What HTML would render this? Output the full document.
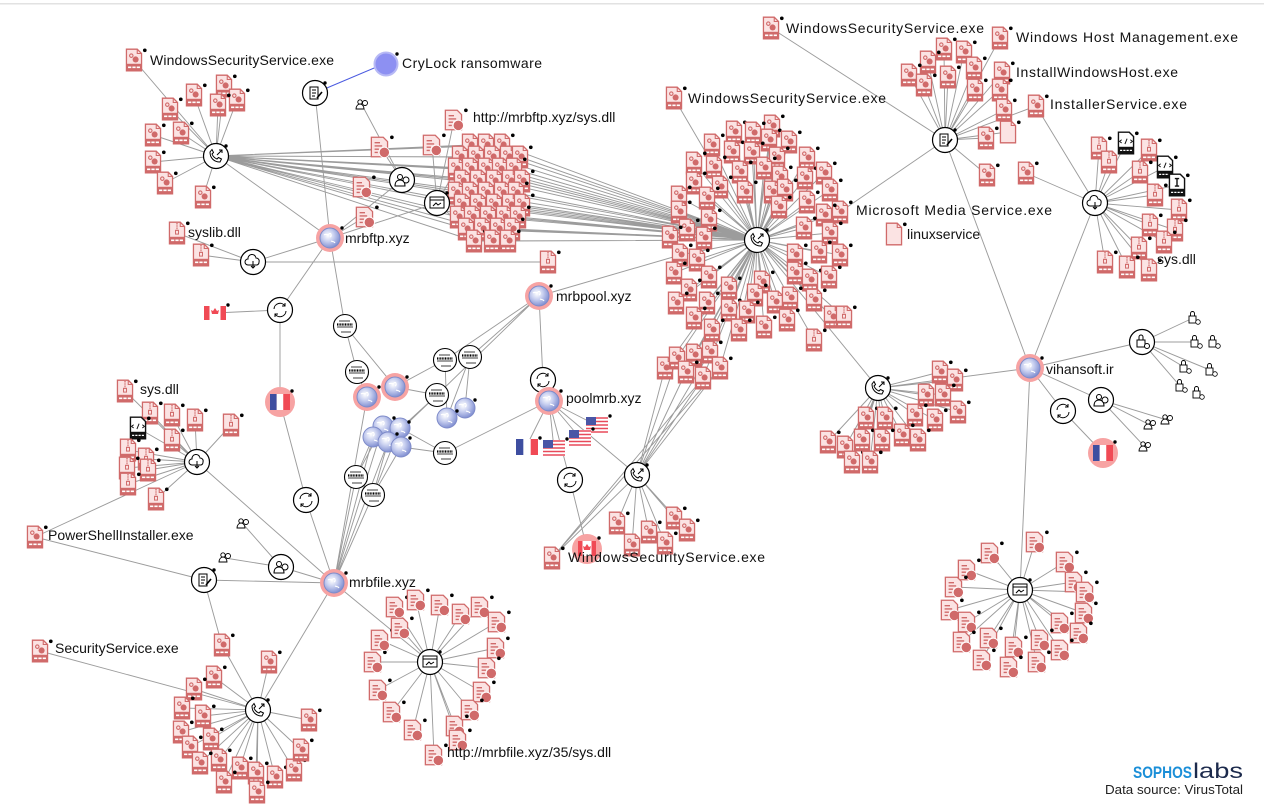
<!DOCTYPE html>
<html><head><meta charset="utf-8">
<style>
html,body{margin:0;padding:0;background:#fff;}
svg{display:block;}
.t{font-family:"Liberation Sans",Arial,sans-serif;font-size:14px;fill:#111;}
</style></head>
<body>
<svg width="1264" height="805" viewBox="0 0 1264 805" xmlns="http://www.w3.org/2000/svg">
<defs>
<radialGradient id="gb" cx="40%" cy="38%" r="65%"><stop offset="0" stop-color="#ffffff"/><stop offset="0.45" stop-color="#c9d0f0"/><stop offset="1" stop-color="#7d8cd0"/></radialGradient>
<g id="pg"><path d="M-7,-10H3L7,-6V10H-7Z" fill="#fbe3e3" stroke="#d06a6a" stroke-width="1.2"/><path d="M3,-10V-6H7" fill="none" stroke="#d06a6a" stroke-width="1"/></g>
<g id="e" transform="scale(1.08)"><use href="#pg"/><circle cx="-2.5" cy="-4" r="1.6" fill="none" stroke="#d06a6a"/><circle cx="1.5" cy="-0.5" r="2.8" fill="#d06a6a"/><rect x="-7" y="3.5" width="14" height="6.5" fill="#d06a6a"/><path d="M-5.5,6.8h3M-1.5,6.8h3M2.5,6.8h3" stroke="#fff" stroke-width="1.5"/><circle cx="10" cy="-9" r="1.7" fill="#000"/></g>
<g id="z" transform="scale(1.08)"><use href="#pg"/><path d="M0,-9v7" stroke="#d06a6a" stroke-width="1.6" stroke-dasharray="1 1"/><rect x="-1.4" y="-2.5" width="2.8" height="3.5" fill="none" stroke="#d06a6a" stroke-width=".9"/><rect x="-7" y="3.5" width="14" height="6.5" fill="#d06a6a"/><path d="M-5.5,6.8h3M-1.5,6.8h3M2.5,6.8h3" stroke="#fff" stroke-width="1.5"/><circle cx="10" cy="-9" r="1.7" fill="#000"/></g>
<g id="d" transform="scale(1.08)"><path d="M-8,-9H3L7,-5V9H-8Z" fill="#fbe3e3" stroke="#d06a6a" stroke-width="1.2"/><path d="M-5,-4h5M-5,-1h7M-5,2h4M-5,5h3" stroke="#d06a6a" stroke-width="1.3"/><circle cx="4" cy="5" r="4.8" fill="#d06a6a" stroke="#fff" stroke-width=".8"/><circle cx="11" cy="-9" r="1.7" fill="#000"/></g>
<g id="bl" transform="scale(1.08)"><use href="#pg"/><circle cx="10" cy="-9" r="1.7" fill="#000"/></g>
<g id="hb" transform="scale(1.08)"><path d="M-7,-10H3L7,-6V10H-7Z" fill="#fff" stroke="#111" stroke-width="1.3"/><path d="M-4,-3l-2,1.5 2,1.5M4,-3l2,1.5-2,1.5M1,-4l-2,5" fill="none" stroke="#111" stroke-width=".9"/><rect x="-7" y="3.5" width="14" height="6.5" fill="#111"/><path d="M-5.5,6.8h11" stroke="#fff" stroke-width="1.2" stroke-dasharray="2 1"/><circle cx="10" cy="-9" r="1.7" fill="#000"/></g>
<g id="ic" transform="scale(1.08)"><path d="M-7,-10H3L7,-6V10H-7Z" fill="#fff" stroke="#111" stroke-width="1.3"/><path d="M-2,-6h4M0,-6v7M-2,1h4" stroke="#111" stroke-width="1.3"/><rect x="-7" y="3.5" width="14" height="6.5" fill="#111"/><path d="M-5.5,6.8h11" stroke="#fff" stroke-width="1.2" stroke-dasharray="2 1"/><circle cx="10" cy="-9" r="1.7" fill="#000"/></g>
<circle id="hc" r="12.5" fill="#fff" stroke="#000" stroke-width="1.2"/>
<g id="hph"><use href="#hc"/><path d="M-6,-4c0,6 4,10 10,10l1.5-3-3-1.5-1.5,1.5c-2.5-1-4-2.5-5-5l1.5-1.5-1.5-3z" fill="none" stroke="#000" stroke-width="1"/><path d="M1,-1l5-5M3,-6h3v3" fill="none" stroke="#000" stroke-width="1"/><circle cx="10" cy="-10" r="1.7"/></g>
<g id="hdo"><use href="#hc"/><path d="M-5,-6h8v12h-8z M-3,-3h4M-3,0h4M-3,3h3" fill="none" stroke="#000"/><path d="M2,5l5-6" stroke="#000" stroke-width="1.6"/><circle cx="10" cy="-10" r="1.7"/></g>
<g id="hwi"><use href="#hc"/><rect x="-7" y="-6" width="14" height="11" fill="none" stroke="#000"/><path d="M-7,-3h14M-4,3l3-3 2,2 3-2" fill="none" stroke="#000"/><circle cx="10" cy="-10" r="1.7"/></g>
<g id="hpe"><use href="#hc"/><circle cx="-2" cy="-3" r="2.5" fill="none" stroke="#000"/><path d="M-7,6c0-4 2-6 5-6s5,2 5,6z" fill="none" stroke="#000"/><circle cx="4" cy="0" r="3" fill="#fff" stroke="#000"/></g>
<g id="hcl"><use href="#hc"/><path d="M-5,3a3,3 0 0 1 0-6a4,4 0 0 1 8-1a3,3 0 0 1 3,4a3,3 0 0 1-2,3z" fill="none" stroke="#000"/><path d="M0,-1v7M-2,4l2,2 2-2" fill="none" stroke="#000"/></g>
<g id="hsw"><use href="#hc"/><path d="M-6,-1a6,6 0 0 1 11-3M6,1a6,6 0 0 1-11,3M5,-7v3h-3M-5,7v-3h3" fill="none" stroke="#000"/></g>
<g id="hlk"><use href="#hc"/><rect x="-5" y="-2" width="8" height="7" fill="none" stroke="#000"/><path d="M-3,-2v-3a2,2 0 0 1 4,0v3" fill="none" stroke="#000"/><circle cx="5" cy="4" r="2.5" fill="#fff" stroke="#000"/></g>
<g id="hce"><circle r="11.5" fill="#fff" stroke="#000" stroke-width="1.1"/><path d="M-8,1h16M-6,-5h11M-4,6h10" stroke="#000" stroke-width=".7"/><path d="M-8,-1.5h16" stroke="#000" stroke-width="2.2" stroke-dasharray="1 .6"/></g>
<g id="dm"><circle r="14" fill="#f7a3a3"/><circle r="10" fill="url(#gb)" stroke="#7e8bc9" stroke-width="1"/><path d="M-6,-3c2,-2 3,1 5,-1s3,2 1,3M1,3c2,1 3,0 4,2" stroke="#fff" stroke-width="1.2" fill="none"/><circle cx="12" cy="-10" r="1.7"/></g>
<g id="gl"><circle r="10" fill="url(#gb)" stroke="#7e8bc9" stroke-width="1"/><path d="M-6,-3c2,-2 3,1 5,-1s3,2 1,3M1,3c2,1 3,0 4,2" stroke="#fff" stroke-width="1.2" fill="none"/></g>
<g id="fr"><rect x="-11" y="-8" width="7.4" height="16" fill="#3e4ea0"/><rect x="-3.6" y="-8" width="7.3" height="16" fill="#fff"/><rect x="3.7" y="-8" width="7.3" height="16" fill="#f04a55"/><circle cx="13" cy="-9" r="1.7"/></g>
<g id="us"><rect x="-11" y="-8" width="22" height="16" fill="#fff"/><path d="M-11,-7h22M-11,-3.5h22M-11,0h22M-11,3.5h22M-11,7h22" stroke="#e84a5a" stroke-width="1.6"/><rect x="-11" y="-8" width="10" height="8" fill="#4a56a6"/><circle cx="13" cy="-9" r="1.7"/></g>
<g id="ca"><rect x="-11" y="-7" width="22" height="14" fill="#fff"/><rect x="-11" y="-7" width="5.5" height="14" fill="#f04a55"/><rect x="5.5" y="-7" width="5.5" height="14" fill="#f04a55"/><path d="M0,-5l2,3 2,-1-1,4h-6l-1,-4 2,1z" fill="#f04a55"/><circle cx="13" cy="-8" r="1.7"/></g>
<g id="cac"><circle r="15" fill="#f7a3a3"/><rect x="-9" y="-8" width="18" height="15" fill="#fff"/><rect x="-9" y="-8" width="4.5" height="15" fill="#f04a55"/><rect x="4.5" y="-8" width="4.5" height="15" fill="#f04a55"/><path d="M0,-5l2,3 2,-1-1,4h-6l-1,-4 2,1z" fill="#f04a55"/><circle cx="12" cy="-11" r="1.7"/></g>
<g id="frc"><circle r="15" fill="#f7a3a3"/><rect x="-10" y="-8" width="6.7" height="16" fill="#3e4ea0"/><rect x="-3.3" y="-8" width="6.6" height="16" fill="#fff"/><rect x="3.3" y="-8" width="6.7" height="16" fill="#f04a55"/><circle cx="12" cy="-11" r="1.7"/></g>
<g id="pp"><circle cx="-2" cy="-3" r="2.2" fill="#fff" stroke="#000" stroke-width=".9"/><path d="M-6,4c0-3 2-5 4-5s4,2 4,5z" fill="#fff" stroke="#000" stroke-width=".9"/><circle cx="3" cy="-2" r="2.5" fill="#fff" stroke="#000" stroke-width=".9"/></g>
<g id="lk"><rect x="-4" y="-2" width="7" height="7" fill="#fff" stroke="#000" stroke-width=".9"/><path d="M-2.5,-2v-2.5a2,2 0 0 1 4,0v2.5" fill="none" stroke="#000" stroke-width=".9"/><circle cx="5" cy="4" r="2.3" fill="#fff" stroke="#000" stroke-width=".8"/></g>
</defs>

<rect x="0" y="3" width="1264" height="1.5" fill="#e2e2e2"/>

<!-- EDGES -->
<g fill="none" stroke="#9c9c9c" stroke-width="0.95">
<path d="M216,156L134,60M216,156L224,86M216,156L194,95M216,156L237,100M216,156L218,105M216,156L170,109M216,156L153,135M216,156L181,133M216,156L153,162M216,156L165,183M216,156L203,197"/>
<path d="M216,156L460,157M216,156L456,169M216,156L462,181M216,156L456,193M216,156L462,205M216,156L458,217M216,156L466,229M216,156L470,145M216,156L476,157M216,156L470,169M216,156L478,181M216,156L470,193M216,156L478,205M216,156L472,217M216,156L482,229M216,156L474,241M216,156L486,145M216,156L492,157M216,156L486,169M216,156L494,181M216,156L486,193M216,156L508,157M216,156L502,145"/>
<path d="M757,240L502,145M757,240L508,157M757,240L520,157M757,240L514,169M757,240L500,169M757,240L522,181M757,240L510,181M757,240L516,193M757,240L502,193M757,240L522,205M757,240L510,205M757,240L518,217M757,240L504,217M757,240L512,229M757,240L498,229M757,240L508,241M757,240L492,241M757,240L494,205M757,240L494,181M757,240L486,169M757,240L488,217M757,240L482,229M757,240L486,145M757,240L492,157M757,240L478,205M757,240L470,193M757,240L474,241M757,240L466,229M757,240L462,205"/>
<path d="M757,240L772,126M757,240L734,132M757,240L753,133M757,240L712,145M757,240L769,140M757,240L789,142M757,240L732,152M757,240L752,153M757,240L777,158M757,240L807,158M757,240L694,163M757,240L714,167M757,240L740,172M757,240L764,168M757,240L780,177M757,240L805,178M757,240L824,173M757,240L694,183M757,240L720,187M757,240L745,192M757,240L772,192M757,240L785,190M757,240L830,190M757,240L679,197M757,240L707,198M757,240L779,207M757,240L807,202M757,240L840,212M757,240L824,215M757,240L679,212M757,240L709,220M757,240L687,230M757,240L804,228M757,240L830,233M757,240L670,237M757,240L704,238M757,240L680,255M757,240L697,260M757,240L795,255M757,240L819,252M757,240L840,255M757,240L674,273M757,240L709,277M757,240L795,273M757,240L810,280M757,240L829,277M757,240L689,290M757,240L729,288M757,240L762,282M757,240L755,295M757,240L707,303M757,240L729,310M757,240L747,312M757,240L775,302M757,240L790,298M757,240L814,300M757,240L739,330M757,240L764,327M757,240L787,320M757,240L832,317M757,240L844,317M757,240L814,340M757,240L676,303M757,240L694,318M757,240L712,330M757,240L674,98M757,240L665,368M757,240L677,358M757,240L694,355M757,240L710,352M757,240L686,372M757,240L703,378M757,240L720,368M757,240L878,388"/>
<path d="M637,475L665,368M637,475L677,358M637,475L694,355M637,475L710,352M637,475L686,372M637,475L703,378M637,475L720,368M637,475L617,523M637,475L632,545M637,475L649,532M637,475L665,543M637,475L674,518M637,475L687,530M637,475L552,558M552,558L703,378M552,558L720,368M549,401L637,475"/>
<path d="M878,388L940,372M878,388L955,380M878,388L926,395M878,388L943,395M878,388L958,412M878,388L915,415M878,388L935,420M878,388L866,418M878,388L885,418M878,388L902,435M878,388L828,442M878,388L845,447M878,388L862,440M878,388L882,440M878,388L852,462M878,388L870,462M878,388L918,440M878,388L1030,368"/>
<path d="M945,140L1000,38M945,140L1002,73M945,140L1036,106M945,140L944,49M945,140L964,52M945,140L928,62M945,140L909,75M945,140L924,85M945,140L948,77M945,140L974,68M945,140L975,90M945,140L1000,90M945,140L1004,110M945,140L986,138M945,140L1008,132M945,140L987,175M945,140L771,28M945,140L840,212M945,140L1030,368"/>
<path d="M1095,203L1099,148M1095,203L1109,162M1095,203L1126,143M1095,203L1149,150M1095,203L1140,172M1095,203L1165,167M1095,203L1177,185M1095,203L1155,195M1095,203L1179,210M1095,203L1150,225M1095,203L1175,230M1095,203L1164,242M1095,203L1139,248M1095,203L1105,262M1095,203L1127,267M1095,203L1149,270M1095,203L1026,173M1095,203L1036,106M1095,203L1030,368"/>
<path d="M1030,368L1142,342M1030,368L1101,400M1030,368L1063,411M1030,368L1020,590M1142,342L1193,318M1142,342L1195,342M1142,342L1184,367M1142,342L1210,370M1142,342L1180,386M1101,400L1150,425M1101,400L1167,420M1101,400L1145,447M1063,411L1103,453"/>
<path d="M1020,590L1035,542M1020,590L990,553M1020,590L1065,562M1020,590L967,570M1020,590L1074,582M1020,590L954,587M1020,590L1085,592M1020,590L950,610M1020,590L1084,613M1020,590L967,622M1020,590L1060,623M1020,590L1079,633M1020,590L962,642M1020,590L989,638M1020,590L1040,640M1020,590L1014,647M1020,590L1060,650M1020,590L982,660M1020,590L1037,662M1020,590L1009,667"/>
<path d="M330,238L216,156M330,238L315,93M330,238L253,262M330,238L280,310M330,238L345,326M330,238L365,217M330,238L437,203M330,238L402,180M402,180L362,105M402,180L380,147M437,203L432,145M437,203L454,120M437,203L470,193M437,203L462,205M437,203L456,169M437,203L466,229M253,262L177,233M253,262L201,255M253,262L548,262M280,310L215,313M280,310L280,402"/>
<path d="M345,326L357,372M345,326L395,387M357,372L367,397M539,296L445,360M539,296L470,357M539,296L543,380M539,296L680,255M539,296L437,395M543,380L549,401M445,360L395,387M445,360L447,418M470,357L465,408M470,357L447,418M437,395L401,428M437,395L388,442M437,395L395,387M445,453L401,447M445,453L400,428M549,401L445,453M549,401L526,447M549,401L554,449M549,401L580,438M549,401L596,425M549,401L570,480M570,480L587,549M356,477L373,437M356,477L383,426M373,495L388,442M373,495L401,447M373,495L400,428"/>
<path d="M334,583L356,477M334,583L373,495M334,583L383,426M334,583L373,437M334,583L388,442M334,583L306,500M334,583L197,462M334,583L204,580M334,583L281,567M334,583L258,710M334,583L430,662M334,583L367,397M306,500L280,402M281,567L243,524M281,567L225,558M204,580L222,645M204,580L35,537M197,462L35,537M40,651L258,710"/>
<path d="M197,462L125,391M197,462L150,413M197,462L172,415M197,462L195,420M197,462L231,425M197,462L138,428M197,462L128,450M197,462L146,459M197,462L127,468M197,462L148,470M197,462L128,484M197,462L156,499M197,462L172,440"/>
<path d="M258,710L222,645M258,710L269,662M258,710L214,677M258,710L194,689M258,710L182,708M258,710L203,716M258,710L181,732M258,710L211,739M258,710L190,747M258,710L219,760M258,710L200,763M258,710L240,768M258,710L224,782M258,710L256,773M258,710L275,777M258,710L294,770M258,710L257,792M258,710L301,750M258,710L309,720"/>
<path d="M430,662L395,607M430,662L416,600M430,662L440,605M430,662L461,614M430,662L480,607M430,662L497,622M430,662L496,648M430,662L487,668M430,662L482,692M430,662L470,710M430,662L455,726M430,662L434,755M430,662L413,730M430,662L392,712M430,662L378,690M430,662L373,662M430,662L380,640M430,662L400,628M430,662L458,740"/>
</g>
<path d="M315,93L386,63" stroke="#4a5ae0" stroke-width="1" fill="none"/>

<!-- ICONS: cluster A -->
<use href="#e" x="134" y="60"/><use href="#e" x="224" y="86"/><use href="#e" x="194" y="95"/><use href="#e" x="237" y="100"/><use href="#e" x="218" y="105"/><use href="#e" x="170" y="109"/><use href="#e" x="153" y="135"/><use href="#e" x="181" y="133"/><use href="#e" x="153" y="162"/><use href="#e" x="165" y="183"/><use href="#e" x="203" y="197"/>
<use href="#hph" x="216" y="156"/>

<!-- dense cluster -->
<use href="#e" x="470" y="145"/><use href="#e" x="486" y="145"/><use href="#e" x="502" y="145"/>
<use href="#e" x="460" y="157"/><use href="#e" x="476" y="157"/><use href="#e" x="492" y="157"/><use href="#e" x="508" y="157"/><use href="#e" x="520" y="157"/>
<use href="#e" x="456" y="169"/><use href="#e" x="470" y="169"/><use href="#e" x="486" y="169"/><use href="#e" x="500" y="169"/><use href="#e" x="514" y="169"/>
<use href="#e" x="462" y="181"/><use href="#e" x="478" y="181"/><use href="#e" x="494" y="181"/><use href="#e" x="510" y="181"/><use href="#e" x="522" y="181"/>
<use href="#e" x="456" y="193"/><use href="#e" x="470" y="193"/><use href="#e" x="486" y="193"/><use href="#e" x="502" y="193"/><use href="#e" x="516" y="193"/>
<use href="#e" x="462" y="205"/><use href="#e" x="478" y="205"/><use href="#e" x="494" y="205"/><use href="#e" x="510" y="205"/><use href="#e" x="522" y="205"/>
<use href="#e" x="458" y="217"/><use href="#e" x="472" y="217"/><use href="#e" x="488" y="217"/><use href="#e" x="504" y="217"/><use href="#e" x="518" y="217"/>
<use href="#e" x="466" y="229"/><use href="#e" x="482" y="229"/><use href="#e" x="498" y="229"/><use href="#e" x="512" y="229"/>
<use href="#e" x="474" y="241"/><use href="#e" x="492" y="241"/><use href="#e" x="508" y="241"/>

<!-- mrbftp area -->
<use href="#d" x="380" y="147"/><use href="#d" x="432" y="145"/><use href="#d" x="454" y="120"/><use href="#d" x="362" y="187"/><use href="#d" x="365" y="217"/>
<use href="#pp" x="362" y="105"/>
<use href="#hdo" x="315" y="93"/>
<use href="#hpe" x="402" y="180"/>
<use href="#hwi" x="437" y="203"/>
<circle cx="386" cy="64" r="11.5" fill="#8d90f2" stroke="#b7b9f5" stroke-width="2"/><circle cx="397" cy="54" r="1.7"/>
<use href="#z" x="177" y="233"/><use href="#z" x="201" y="255"/><use href="#z" x="548" y="262"/>
<use href="#hcl" x="253" y="262"/>
<use href="#dm" x="330" y="238"/>
<use href="#hsw" x="280" y="310"/>
<use href="#ca" x="215" y="313"/>
<use href="#frc" x="280" y="402"/>

<!-- central big cluster -->
<use href="#e" x="772" y="126"/><use href="#e" x="734" y="132"/><use href="#e" x="753" y="133"/><use href="#e" x="712" y="145"/><use href="#e" x="769" y="140"/><use href="#e" x="789" y="142"/><use href="#e" x="732" y="152"/><use href="#e" x="752" y="153"/><use href="#e" x="777" y="158"/><use href="#e" x="807" y="158"/><use href="#e" x="694" y="163"/><use href="#e" x="714" y="167"/><use href="#e" x="740" y="172"/><use href="#e" x="764" y="168"/><use href="#e" x="780" y="177"/><use href="#e" x="805" y="178"/><use href="#e" x="824" y="173"/><use href="#e" x="694" y="183"/><use href="#e" x="720" y="187"/><use href="#e" x="745" y="192"/><use href="#e" x="772" y="192"/><use href="#e" x="785" y="190"/><use href="#e" x="830" y="190"/><use href="#e" x="679" y="197"/><use href="#e" x="707" y="198"/><use href="#e" x="779" y="207"/><use href="#e" x="807" y="202"/><use href="#e" x="840" y="212"/><use href="#e" x="824" y="215"/><use href="#e" x="679" y="212"/><use href="#e" x="709" y="220"/><use href="#e" x="687" y="230"/><use href="#e" x="804" y="228"/><use href="#e" x="830" y="233"/><use href="#e" x="670" y="237"/><use href="#e" x="704" y="238"/><use href="#e" x="680" y="255"/><use href="#e" x="697" y="260"/><use href="#e" x="795" y="255"/><use href="#e" x="819" y="252"/><use href="#e" x="840" y="255"/><use href="#e" x="674" y="273"/><use href="#e" x="709" y="277"/><use href="#e" x="795" y="273"/><use href="#e" x="810" y="280"/><use href="#e" x="829" y="277"/><use href="#e" x="689" y="290"/><use href="#e" x="729" y="288"/><use href="#e" x="762" y="282"/><use href="#e" x="755" y="295"/><use href="#e" x="707" y="303"/><use href="#e" x="729" y="310"/><use href="#e" x="747" y="312"/><use href="#e" x="775" y="302"/><use href="#e" x="790" y="298"/><use href="#e" x="814" y="300"/><use href="#e" x="739" y="330"/><use href="#e" x="764" y="327"/><use href="#e" x="787" y="320"/><use href="#e" x="832" y="317"/><use href="#z" x="844" y="317"/><use href="#z" x="814" y="340"/><use href="#e" x="676" y="303"/><use href="#e" x="694" y="318"/><use href="#e" x="712" y="330"/>
<use href="#e" x="665" y="368"/><use href="#e" x="677" y="358"/><use href="#e" x="694" y="355"/><use href="#e" x="710" y="352"/><use href="#e" x="686" y="372"/><use href="#e" x="703" y="378"/><use href="#e" x="720" y="368"/>
<use href="#e" x="674" y="98"/>
<use href="#hph" x="757" y="240"/>
<use href="#bl" x="894" y="234"/>

<!-- HP2 -->
<use href="#e" x="940" y="372"/><use href="#e" x="955" y="380"/><use href="#e" x="926" y="395"/><use href="#e" x="943" y="395"/><use href="#e" x="958" y="412"/><use href="#e" x="915" y="415"/><use href="#e" x="935" y="420"/><use href="#e" x="866" y="418"/><use href="#e" x="885" y="418"/><use href="#e" x="902" y="435"/><use href="#e" x="828" y="442"/><use href="#e" x="845" y="447"/><use href="#e" x="862" y="440"/><use href="#e" x="882" y="440"/><use href="#e" x="852" y="462"/><use href="#e" x="870" y="462"/><use href="#e" x="918" y="440"/>
<use href="#hph" x="878" y="388"/>

<!-- HD top right -->
<use href="#e" x="771" y="28"/><use href="#e" x="1000" y="38"/><use href="#e" x="1002" y="73"/><use href="#e" x="1036" y="106"/><use href="#e" x="944" y="49"/><use href="#e" x="964" y="52"/><use href="#e" x="928" y="62"/><use href="#e" x="909" y="75"/><use href="#e" x="924" y="85"/><use href="#e" x="948" y="77"/><use href="#e" x="974" y="68"/><use href="#e" x="975" y="90"/><use href="#e" x="1000" y="90"/><use href="#e" x="1004" y="110"/><use href="#e" x="986" y="138"/><use href="#bl" x="1008" y="132"/><use href="#e" x="987" y="175"/><use href="#e" x="1026" y="173"/>
<use href="#hdo" x="945" y="140"/>

<!-- HC -->
<use href="#z" x="1099" y="148"/><use href="#z" x="1109" y="162"/><use href="#hb" x="1126" y="143"/><use href="#z" x="1149" y="150"/><use href="#z" x="1140" y="172"/><use href="#hb" x="1165" y="167"/><use href="#ic" x="1177" y="185"/><use href="#z" x="1155" y="195"/><use href="#z" x="1179" y="210"/><use href="#z" x="1150" y="225"/><use href="#z" x="1175" y="230"/><use href="#z" x="1164" y="242"/><use href="#z" x="1139" y="248"/><use href="#z" x="1105" y="262"/><use href="#z" x="1127" y="267"/><use href="#z" x="1149" y="270"/>
<use href="#hcl" x="1095" y="203"/>

<!-- vihansoft -->
<use href="#dm" x="1030" y="368"/>
<use href="#hlk" x="1142" y="342"/>
<use href="#lk" x="1193" y="318"/><use href="#lk" x="1195" y="342"/><use href="#lk" x="1213" y="342"/><use href="#lk" x="1184" y="367"/><use href="#lk" x="1210" y="370"/><use href="#lk" x="1180" y="386"/><use href="#lk" x="1197" y="393"/>
<use href="#hpe" x="1101" y="400"/>
<use href="#pp" x="1150" y="425"/><use href="#pp" x="1167" y="420"/><use href="#pp" x="1145" y="447"/>
<use href="#hsw" x="1063" y="411"/>
<use href="#frc" x="1103" y="453"/>

<!-- HW bottom right -->
<use href="#d" x="1035" y="542"/><use href="#d" x="990" y="553"/><use href="#d" x="1065" y="562"/><use href="#d" x="967" y="570"/><use href="#d" x="1074" y="582"/><use href="#d" x="954" y="587"/><use href="#d" x="1085" y="592"/><use href="#d" x="950" y="610"/><use href="#d" x="1084" y="613"/><use href="#d" x="967" y="622"/><use href="#d" x="1060" y="623"/><use href="#d" x="1079" y="633"/><use href="#d" x="962" y="642"/><use href="#d" x="989" y="638"/><use href="#d" x="1040" y="640"/><use href="#d" x="1014" y="647"/><use href="#d" x="1060" y="650"/><use href="#d" x="982" y="660"/><use href="#d" x="1037" y="662"/><use href="#d" x="1009" y="667"/>
<use href="#hwi" x="1020" y="590"/>

<!-- mrbpool / poolmrb -->
<use href="#dm" x="539" y="296"/>
<use href="#hsw" x="543" y="380"/>
<use href="#dm" x="549" y="401"/>
<use href="#us" x="597" y="425"/><use href="#us" x="580" y="438"/><use href="#fr" x="527" y="447"/><use href="#us" x="554" y="448"/>
<use href="#hsw" x="570" y="480"/>
<use href="#cac" x="587" y="549"/>
<use href="#e" x="617" y="523"/><use href="#e" x="632" y="545"/><use href="#e" x="649" y="532"/><use href="#e" x="665" y="543"/><use href="#e" x="674" y="518"/><use href="#e" x="687" y="530"/><use href="#e" x="552" y="558"/>
<use href="#hph" x="637" y="475"/>

<!-- globe cluster -->
<use href="#hce" x="345" y="326"/><use href="#hce" x="357" y="372"/><use href="#hce" x="445" y="360"/><use href="#hce" x="470" y="357"/><use href="#hce" x="437" y="395"/><use href="#hce" x="445" y="453"/><use href="#hce" x="356" y="477"/><use href="#hce" x="373" y="495"/>
<use href="#dm" x="367" y="397"/><use href="#dm" x="395" y="387"/>
<use href="#gl" x="447" y="418"/><use href="#gl" x="465" y="408"/><circle cx="475" cy="400" r="1.7"/><circle cx="457" cy="411" r="1.7"/>
<use href="#gl" x="383" y="426"/><use href="#gl" x="400" y="428"/><use href="#gl" x="373" y="437"/><use href="#gl" x="388" y="442"/><use href="#gl" x="401" y="447"/>
<circle cx="394" cy="418" r="1.7"/><circle cx="409" cy="422" r="1.7"/><circle cx="397" cy="434" r="1.7"/><circle cx="410" cy="438" r="1.7"/>

<!-- left cluster -->
<use href="#z" x="125" y="391"/><use href="#z" x="150" y="413"/><use href="#z" x="172" y="415"/><use href="#z" x="195" y="420"/><use href="#z" x="231" y="425"/><use href="#hb" x="138" y="428"/><use href="#z" x="128" y="450"/><use href="#z" x="146" y="459"/><use href="#z" x="127" y="468"/><use href="#z" x="148" y="470"/><use href="#z" x="128" y="484"/><use href="#z" x="156" y="499"/><use href="#z" x="172" y="440"/>
<use href="#hcl" x="197" y="462"/>
<use href="#e" x="35" y="537"/>
<use href="#pp" x="243" y="524"/><use href="#pp" x="225" y="558"/>
<use href="#hpe" x="281" y="567"/>
<use href="#hdo" x="204" y="580"/>
<use href="#hsw" x="306" y="500"/>
<use href="#dm" x="334" y="583"/>

<!-- HP4 -->
<use href="#e" x="40" y="651"/>
<use href="#e" x="222" y="645"/><use href="#e" x="269" y="662"/><use href="#e" x="214" y="677"/><use href="#e" x="194" y="689"/><use href="#e" x="182" y="708"/><use href="#e" x="203" y="716"/><use href="#e" x="181" y="732"/><use href="#e" x="211" y="739"/><use href="#e" x="190" y="747"/><use href="#e" x="219" y="760"/><use href="#e" x="200" y="763"/><use href="#e" x="240" y="768"/><use href="#e" x="224" y="782"/><use href="#e" x="256" y="773"/><use href="#e" x="275" y="777"/><use href="#e" x="294" y="770"/><use href="#e" x="257" y="792"/><use href="#e" x="301" y="750"/><use href="#e" x="309" y="720"/>
<use href="#hph" x="258" y="710"/>

<!-- HW2 -->
<use href="#d" x="395" y="607"/><use href="#d" x="416" y="600"/><use href="#d" x="440" y="605"/><use href="#d" x="461" y="614"/><use href="#d" x="480" y="607"/><use href="#d" x="497" y="622"/><use href="#d" x="496" y="648"/><use href="#d" x="487" y="668"/><use href="#d" x="482" y="692"/><use href="#d" x="470" y="710"/><use href="#d" x="455" y="726"/><use href="#d" x="434" y="755"/><use href="#d" x="413" y="730"/><use href="#d" x="392" y="712"/><use href="#d" x="378" y="690"/><use href="#d" x="373" y="662"/><use href="#d" x="380" y="640"/><use href="#d" x="400" y="628"/><use href="#d" x="458" y="740"/>
<use href="#hwi" x="430" y="662"/>

<!-- LABELS -->
<text class="t" x="150" y="65" textLength="184" lengthAdjust="spacing">WindowsSecurityService.exe</text>
<text class="t" x="402" y="68" textLength="140" lengthAdjust="spacing">CryLock ransomware</text>
<text class="t" x="473" y="122">http://mrbftp.xyz/sys.dll</text>
<text class="t" x="688" y="103" textLength="198" lengthAdjust="spacing">WindowsSecurityService.exe</text>
<text class="t" x="786" y="33" textLength="198" lengthAdjust="spacing">WindowsSecurityService.exe</text>
<text class="t" x="1016" y="42" textLength="222" lengthAdjust="spacing">Windows Host Management.exe</text>
<text class="t" x="1016" y="77" textLength="162" lengthAdjust="spacing">InstallWindowsHost.exe</text>
<text class="t" x="1050" y="109" textLength="137" lengthAdjust="spacing">InstallerService.exe</text>
<text class="t" x="856" y="215" textLength="196" lengthAdjust="spacing">Microsoft Media Service.exe</text>
<text class="t" x="907" y="239">linuxservice</text>
<text class="t" x="1157" y="264">sys.dll</text>
<text class="t" x="188" y="237">syslib.dll</text>
<text class="t" x="345" y="243">mrbftp.xyz</text>
<text class="t" x="556" y="301">mrbpool.xyz</text>
<text class="t" x="566" y="403">poolmrb.xyz</text>
<text class="t" x="1046" y="374">vihansoft.ir</text>
<text class="t" x="140" y="394">sys.dll</text>
<text class="t" x="48" y="540">PowerShellInstaller.exe</text>
<text class="t" x="349" y="587">mrbfile.xyz</text>
<text class="t" x="55" y="653">SecurityService.exe</text>
<text class="t" x="568" y="562" textLength="197" lengthAdjust="spacing">WindowsSecurityService.exe</text>
<text class="t" x="447" y="757">http://mrbfile.xyz/35/sys.dll</text>

<!-- logo -->
<text x="1133" y="778" font-family="Liberation Sans, Arial, sans-serif" font-size="17" font-weight="bold" fill="#1b8fd8" textLength="59" lengthAdjust="spacingAndGlyphs">SOPHOS</text>
<text x="1193" y="778" font-family="Liberation Sans, Arial, sans-serif" font-size="21" fill="#1c2a4c" textLength="50" lengthAdjust="spacingAndGlyphs">labs</text>
<text x="1105" y="794" font-family="Liberation Sans, Arial, sans-serif" font-size="12.5" fill="#222" textLength="138" lengthAdjust="spacingAndGlyphs">Data source: VirusTotal</text>
</svg>
</body></html>
